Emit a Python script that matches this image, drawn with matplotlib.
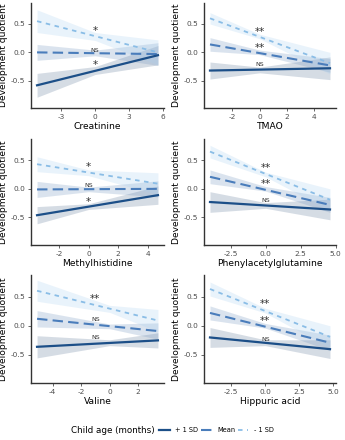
import numpy as np
import matplotlib
matplotlib.use('Agg')
import matplotlib.pyplot as plt
from matplotlib.lines import Line2D
from matplotlib.offsetbox import HPacker

metabolites = ['Creatinine', 'TMAO', 'Methylhistidine',
               'Phenylacetylglutamine', 'Valine', 'Hippuric acid']
x_start = [-5.15, -3.65, -3.47, -3.98, -5.09, -4.06]
x_end = [5.57, 5.16, 4.68, 4.60, 3.39, 4.75]
x_ticks = [[-3, 0, 3, 6], [-2, 0, 2, 4], [-2, 0, 2, 4],
           [-2.5, 0.0, 2.5, 5.0], [-4, -2, 0, 2], [-2.5, 0.0, 2.5, 5.0]]
x_ticklabels = [['-3', '0', '3', '6'], ['-2', '0', '2', '4'], ['-2', '0', '2', '4'],
                ['-2.5', '0.0', '2.5', '5.0'], ['-4', '-2', '0', '2'],
                ['-2.5', '0.0', '2.5', '5.0']]

# fitted value at (start, 0, end) and CI half width at the same points
plus_fit = [(-0.58, -0.32, -0.05), (-0.32, -0.31, -0.28), (-0.46, -0.31, -0.11),
            (-0.23, -0.29, -0.36), (-0.36, -0.29, -0.25), (-0.20, -0.29, -0.40)]
plus_ci = [(0.21, 0.07, 0.17), (0.15, 0.05, 0.20), (0.15, 0.05, 0.16),
           (0.18, 0.05, 0.18), (0.19, 0.05, 0.13), (0.17, 0.05, 0.16)]
mean_fit = [(0.00, -0.01, -0.03), (0.14, 0.00, -0.23), (-0.01, -0.01, 0.00),
            (0.21, 0.00, -0.28), (0.12, -0.01, -0.09), (0.22, 0.00, -0.29)]
mean_ci = [(0.14, 0.05, 0.20), (0.12, 0.04, 0.12), (0.14, 0.04, 0.14),
           (0.12, 0.04, 0.13), (0.14, 0.04, 0.14), (0.12, 0.04, 0.13)]
minus_fit = [(0.55, 0.28, 0.00), (0.60, 0.28, -0.19), (0.43, 0.28, 0.09),
             (0.65, 0.25, -0.19), (0.60, 0.29, 0.09), (0.63, 0.26, -0.19)]
minus_ci = [(0.20, 0.07, 0.22), (0.10, 0.04, 0.19), (0.13, 0.05, 0.19),
            (0.11, 0.04, 0.19), (0.18, 0.06, 0.19), (0.12, 0.04, 0.19)]

# significance labels (minus, mean, plus) and where they sit
sig_labels = [('*', 'NS', '*'), ('**', '**', 'NS'), ('*', 'NS', '*'),
              ('**', '**', 'NS'), ('**', 'NS', 'NS'), ('**', '**', 'NS')]
sig_x = [0, 0, 0, 0, -1.0, 0]
sig_y = [(0.37, 0.04, -0.22), (0.36, 0.07, -0.22), (0.38, 0.06, -0.23),
         (0.37, 0.08, -0.20), (0.46, 0.10, -0.20), (0.38, 0.08, -0.23)]

legend_labels = ['+ 1 SD', 'Mean', '- 1 SD']
c_plus, c_mean, c_minus = '#1c4f88', '#4a7dbb', '#8abde6'
band_cols = ['#5a7596', '#6f93bd', '#a9d0f0']
styles = [(c_plus, '-', 1.6), (c_mean, (0, (5, 2.5)), 1.5), (c_minus, (0, (2.5, 2.5)), 1.3)]

W, H = 345, 440
cols = [(31, 133), (204, 132)]
rows = [(3, 108), (139, 245), (275, 383)]

fig = plt.figure(figsize=(W / 100, H / 100), dpi=100)

for i, name in enumerate(metabolites):
    r, c = divmod(i, 2)
    left, width = cols[c]
    top, bottom = rows[r]
    ax = fig.add_axes([left / W, 1 - bottom / H, width / W, (bottom - top) / H])

    xs = [x_start[i], 0.0, x_end[i]]
    fits = [plus_fit[i], mean_fit[i], minus_fit[i]]
    cis = [plus_ci[i], mean_ci[i], minus_ci[i]]
    for k in [0, 1, 2]:
        fit = np.array(fits[k])
        ci = np.array(cis[k])
        ax.fill_between(xs, fit - ci, fit + ci, color=band_cols[k], alpha=0.25, lw=0)
    for k in [2, 1, 0]:
        col, ls, lw = styles[k]
        ax.plot([xs[0], xs[2]], [fits[k][0], fits[k][2]], color=col, ls=ls, lw=lw)

    for k, lab in enumerate(sig_labels[i]):
        fs = 4.5 if lab == 'NS' else 7.5
        ax.text(sig_x[i], sig_y[i][k], lab, ha='center', va='center',
                fontsize=fs, color='#333333')

    span = x_end[i] - x_start[i]
    ax.set_xlim(x_start[i] - 0.05 * span, x_end[i] + 0.05 * span)
    ax.set_ylim(-0.98, 0.87)
    ax.set_xticks(x_ticks[i])
    ax.set_xticklabels(x_ticklabels[i])
    ax.set_yticks([-0.5, 0.0, 0.5])
    ax.set_yticklabels(['-0.5', '0.0', '0.5'])
    ax.tick_params(labelsize=5.3, colors='#4d4d4d', length=2.5, width=0.6, pad=1.5)
    for s in ['top', 'right']:
        ax.spines[s].set_visible(False)
    for s in ['left', 'bottom']:
        ax.spines[s].set_linewidth(1.0)
        ax.spines[s].set_color('#333333')
    ax.set_xlabel(name, fontsize=6.6, labelpad=2)
    ax.set_ylabel('Development quotient', fontsize=6.6, labelpad=2)

handles = [Line2D([], [], color=styles[k][0], ls=styles[k][1], lw=styles[k][2])
           for k in range(3)]
leg = fig.legend(handles, legend_labels, loc='center', bbox_to_anchor=(0.5, 0.022),
                 ncol=3, frameon=False, title='Child age (months)', fontsize=4.8,
                 title_fontsize=6.3, handlelength=1.6, handletextpad=0.8,
                 columnspacing=0.4)
# put the title on the same row as the keys
box = leg._legend_box
box._children = [HPacker(children=box._children, align='center', pad=0, sep=3)]

fig.savefig('out.png', dpi=100)
